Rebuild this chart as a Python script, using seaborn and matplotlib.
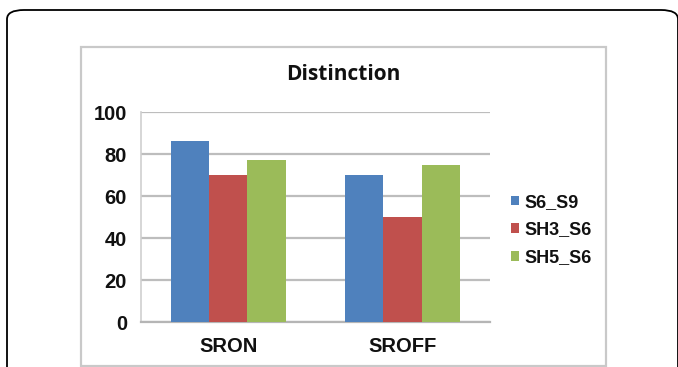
import matplotlib
matplotlib.use("Agg")
import matplotlib.pyplot as plt
from matplotlib.patches import FancyBboxPatch, Rectangle
import seaborn as sns
import pandas as pd

categories = ["SRON", "SROFF"]
series_names = ["S6_S9", "SH3_S6", "SH5_S6"]
s6_s9 = [86, 70]
sh3_s6 = [70, 50]
sh5_s6 = [77, 75]
y_ticks = [0, 20, 40, 60, 80, 100]
title_text = "Distinction"

colors = ["#4F81BD", "#C0504D", "#9BBB59"]

rows = []
for name, vals in zip(series_names, [s6_s9, sh3_s6, sh5_s6]):
    for cat, v in zip(categories, vals):
        rows.append({"category": cat, "series": name, "value": v})
df = pd.DataFrame(rows)

sns.set_theme(style="white")
plt.rcParams["font.family"] = ["Liberation Sans", "DejaVu Sans"]

W, H = 678, 367
fig = plt.figure(figsize=(W / 100, H / 100), dpi=100)
fig.patch.set_facecolor("white")

def fx(px):
    return px / W

def fy(py):
    return 1 - py / H

# outer rounded frame and inner chart border
outer = FancyBboxPatch((fx(7), fy(420)), fx(671), fy(10) - fy(420),
                       boxstyle="round,pad=0,rounding_size=0.025",
                       transform=fig.transFigure, fill=False,
                       edgecolor="black", linewidth=1.3, clip_on=False)
fig.patches.append(outer)
inner = Rectangle((fx(81), fy(366)), fx(606) - fx(81), fy(47) - fy(366),
                  transform=fig.transFigure, fill=False,
                  edgecolor="#c9c9c9", linewidth=1.6)
fig.patches.append(inner)

ax = fig.add_axes([fx(141), fy(322), fx(489.5) - fx(141), fy(112) - fy(322)])
sns.barplot(data=df, x="category", y="value", hue="series",
            order=categories, hue_order=series_names,
            palette=colors, width=0.66, saturation=1,
            edgecolor="none", linewidth=0, ax=ax, zorder=3)

ax.set_xlim(-0.5, 1.5)
ax.set_ylim(0, 100)
ax.set_yticks(y_ticks)
ax.set_yticklabels([str(t) for t in y_ticks])
ax.yaxis.grid(True, color="#bdbdbd", linewidth=1.6, zorder=0)
ax.set_axisbelow(True)
ax.set_xlabel("")
ax.set_ylabel("")
for side in ["top", "right"]:
    ax.spines[side].set_visible(False)
ax.spines["left"].set_color("#cfcfcf")
ax.spines["left"].set_linewidth(1.2)
ax.spines["bottom"].set_color("#b5b5b5")
ax.spines["bottom"].set_linewidth(1.6)
ax.tick_params(axis="both", length=0)
ax.tick_params(axis="y", pad=10)
ax.tick_params(axis="x", pad=11)
for lab in ax.get_yticklabels() + ax.get_xticklabels():
    lab.set_fontweight("bold")
    lab.set_fontsize(14.5)
    lab.set_color("#111111")

handles, labels = ax.get_legend_handles_labels()
ax.legend_.remove()
leg = fig.legend(handles, labels, loc="center left",
                 bbox_to_anchor=(fx(511), fy(230)),
                 frameon=False, borderpad=0, borderaxespad=0,
                 handlelength=0.42, handleheight=0.42, handletextpad=0.3,
                 labelspacing=0.6,
                 prop={"family": "Liberation Sans", "weight": "bold", "size": 13})
for t in leg.get_texts():
    t.set_color("#111111")

fig.text(fx(343.5), fy(75), title_text, ha="center", va="center",
         fontsize=15, fontweight="bold", family=["Open Sans", "DejaVu Sans"],
         color="#111111")

fig.savefig("out.png", dpi=100)
